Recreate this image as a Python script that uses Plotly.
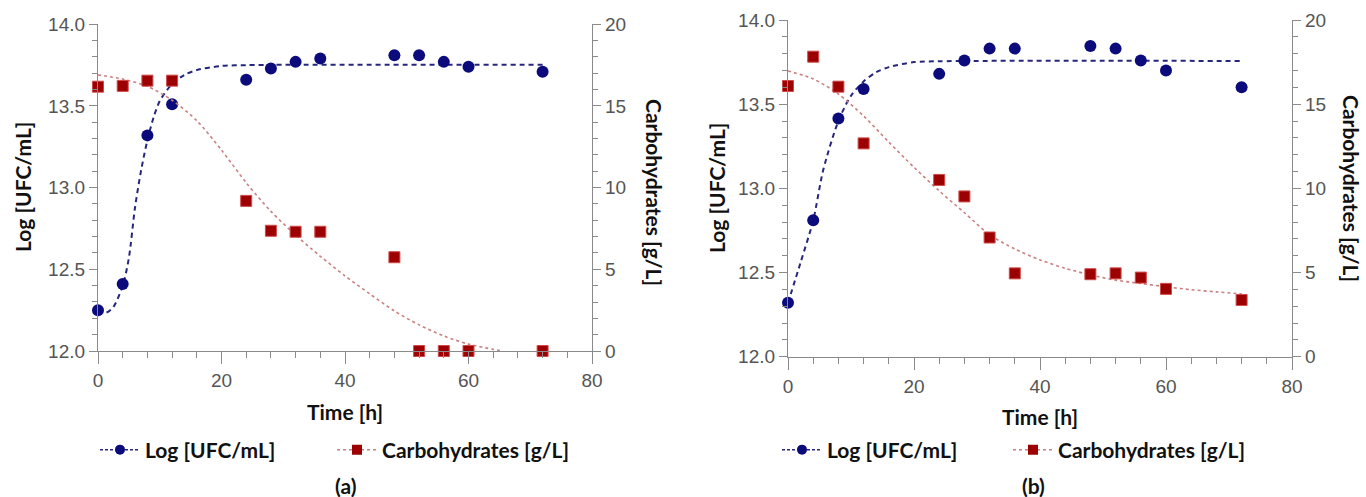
import plotly.graph_objects as go

# ---------------- data ----------------
time_h = [0, 4, 8, 12, 24, 28, 32, 36, 48, 52, 56, 60, 72]

log_a = [12.25, 12.41, 13.32, 13.51, 13.66, 13.73, 13.77, 13.79, 13.81, 13.81, 13.77, 13.74, 13.71]
carb_a = [16.18, 16.23, 16.55, 16.55, 9.19, 7.36, 7.30, 7.30, 5.74, 0.0, 0.0, 0.0, 0.0]

log_b = [12.32, 12.81, 13.415, 13.59, 13.68, 13.76, 13.83, 13.83, 13.845, 13.83, 13.76, 13.70, 13.60]
carb_b = [16.08, 17.82, 16.04, 12.67, 10.5, 9.52, 7.08, 4.95, 4.90, 4.95, 4.70, 4.03, 3.37]

# fitted curves
fit_log_a_t = [0, 1.3, 2.5, 4, 5, 6, 7, 8, 9, 10, 12, 14, 16, 20, 24, 30, 72]
fit_log_a_v = [12.25, 12.235, 12.27, 12.40, 12.57, 12.88, 13.11, 13.29, 13.43, 13.53, 13.635, 13.69, 13.72, 13.745, 13.75, 13.752, 13.752]
fit_carb_a_t = [0, 4, 8, 12, 16, 20, 24, 28, 32, 36, 40, 44, 48, 52, 56, 60, 64, 65.5]
fit_carb_a_v = [16.9, 16.65, 16.2, 15.35, 14.1, 12.3, 10.3, 8.55, 7.1, 5.8, 4.6, 3.5, 2.45, 1.6, 0.92, 0.42, 0.1, 0.0]

fit_log_b_t = [0, 2, 4, 5.6, 8, 10, 12, 14, 16, 20, 24, 30, 72]
fit_log_b_v = [12.32, 12.56, 12.81, 13.11, 13.40, 13.55, 13.635, 13.69, 13.72, 13.75, 13.755, 13.757, 13.757]
fit_carb_b_t = [0, 4, 8, 12, 16, 20, 24, 28, 32, 36, 40, 44, 48, 52, 56, 60, 64, 68, 72]
fit_carb_b_v = [16.97, 16.5, 15.6, 14.3, 12.75, 11.25, 9.85, 8.55, 7.25, 6.4, 5.75, 5.25, 4.86, 4.55, 4.35, 4.15, 3.98, 3.85, 3.73]

name_log = "Log [UFC/mL]"
name_carb = "Carbohydrates [g/L]"
x_title = "Time [h]"
panel_labels = ["(a)", "(b)"]

# ---------------- style ----------------
W, H = 1366, 497
BLUE = "#0b0b7c"
BLUE_LINE = "#26267e"
RED = "#9c0000"
RED_EDGE = "#cf4a4a"
RED_LINE = "#c98080"
AXIS = "#8a8a8a"
TICKFONT = dict(family="Liberation Sans, Arial, sans-serif", size=19, color="#555555")
BOLD = dict(family="Lato, Carlito, sans-serif", size=21, color="#111111", weight="bold")

fig = go.Figure()

panels = [
    dict(xa="x", ya="y", ya2="y2", log=log_a, carb=carb_a,
         flt=fit_log_a_t, flv=fit_log_a_v, fct=fit_carb_a_t, fcv=fit_carb_a_v, legends=("legend", "legend2")),
    dict(xa="x2", ya="y3", ya2="y4", log=log_b, carb=carb_b,
         flt=fit_log_b_t, flv=fit_log_b_v, fct=fit_carb_b_t, fcv=fit_carb_b_v, legends=("legend3", "legend4")),
]

for p in panels:
    fig.add_trace(go.Scatter(x=p["fct"], y=p["fcv"], xaxis=p["xa"], yaxis=p["ya2"], mode="lines",
                             line=dict(color=RED_LINE, width=1.6, dash="dot", shape="spline", smoothing=0.8),
                             showlegend=False, hoverinfo="skip"))
    fig.add_trace(go.Scatter(x=p["flt"], y=p["flv"], xaxis=p["xa"], yaxis=p["ya"], mode="lines",
                             line=dict(color=BLUE_LINE, width=2, dash="5px,4px", shape="spline", smoothing=0.8),
                             showlegend=False, hoverinfo="skip"))
    fig.add_trace(go.Scatter(x=time_h, y=p["carb"], xaxis=p["xa"], yaxis=p["ya2"], mode="markers",
                             marker=dict(symbol="square", size=11, color=RED, line=dict(color=RED_EDGE, width=1)),
                             showlegend=False, cliponaxis=False))
    fig.add_trace(go.Scatter(x=time_h, y=p["log"], xaxis=p["xa"], yaxis=p["ya"], mode="markers",
                             marker=dict(symbol="circle", size=12, color=BLUE),
                             showlegend=False, cliponaxis=False))
    # legend entries
    fig.add_trace(go.Scatter(x=[None], y=[None], xaxis=p["xa"], yaxis=p["ya"], mode="lines+markers",
                             name=name_log, legend=p["legends"][0],
                             line=dict(color=BLUE_LINE, width=1.5, dash="3px,2px"),
                             marker=dict(symbol="circle", size=10, color=BLUE)))
    fig.add_trace(go.Scatter(x=[None], y=[None], xaxis=p["xa"], yaxis=p["ya2"], mode="lines+markers",
                             name=name_carb, legend=p["legends"][1],
                             line=dict(color=RED_LINE, width=1.5, dash="dot"),
                             marker=dict(symbol="square", size=10, color=RED)))

def xaxis_cfg(dom, anchor):
    return dict(domain=dom, anchor=anchor, range=[0, 80], tick0=0, dtick=20,
                ticks="outside", ticklen=12, tickwidth=1, tickcolor=AXIS,
                minor=dict(dtick=4, ticklen=6, ticks="outside", tickcolor=AXIS, tickwidth=1),
                showline=True, linecolor=AXIS, linewidth=1.3, showgrid=False, zeroline=False,
                tickfont=TICKFONT, fixedrange=True, automargin=False)

def yleft_cfg(dom, anchor):
    return dict(domain=dom, anchor=anchor, range=[12, 14], tick0=12, dtick=0.5, tickformat=".1f",
                ticks="outside", ticklen=8, tickwidth=1, tickcolor=AXIS,
                minor=dict(dtick=0.1, ticklen=5, ticks="outside", tickcolor=AXIS, tickwidth=1),
                showline=True, linecolor=AXIS, linewidth=1.3, showgrid=False, zeroline=False,
                tickfont=TICKFONT, fixedrange=True, automargin=False)

def yright_cfg(over, anchor):
    return dict(overlaying=over, side="right", anchor=anchor, range=[0, 20], tick0=0, dtick=5,
                ticks="outside", ticklen=8, tickwidth=1, tickcolor=AXIS,
                minor=dict(dtick=1, ticklen=5, ticks="outside", tickcolor=AXIS, tickwidth=1),
                showline=True, linecolor=AXIS, linewidth=1.3, showgrid=False, zeroline=False,
                tickfont=TICKFONT, fixedrange=True, automargin=False)

xa_dom = [98 / W, 592 / W]
ya_dom = [1 - 351 / H, 1 - 24.3 / H]
xb_dom = [788 / W, 1292 / W]
yb_dom = [1 - 356.7 / H, 1 - 20 / H]

def leg(x_px, y_px):
    return dict(x=x_px / W, y=1 - y_px / H, orientation="h", font=BOLD, bgcolor="rgba(0,0,0,0)",
                yanchor="middle", xanchor="left", itemwidth=40)

fig.update_layout(
    width=W, height=H, autosize=False,
    margin=dict(l=0, r=0, t=0, b=0, autoexpand=False),
    paper_bgcolor="white", plot_bgcolor="white",
    xaxis=xaxis_cfg(xa_dom, "y"),
    yaxis=yleft_cfg(ya_dom, "x"),
    yaxis2=yright_cfg("y", "x"),
    xaxis2=xaxis_cfg(xb_dom, "y3"),
    yaxis3=yleft_cfg(yb_dom, "x2"),
    yaxis4=yright_cfg("y3", "x2"),
    legend=leg(95, 450),
    legend2=leg(332, 450),
    legend3=leg(777, 450),
    legend4=leg(1008, 450),
    showlegend=True,
)

ann = []
# left axis titles
ann.append(dict(x=22 / W, y=1 - 187 / H, text=name_log, textangle=-90))
ann.append(dict(x=716 / W, y=1 - 188 / H, text=name_log, textangle=-90))
# right axis titles
ann.append(dict(x=655 / W, y=1 - 192 / H, text=name_carb, textangle=90))
ann.append(dict(x=1352 / W, y=1 - 188 / H, text=name_carb, textangle=90))
# x titles
ann.append(dict(x=345 / W, y=1 - 411 / H, text=x_title))
ann.append(dict(x=1040 / W, y=1 - 416 / H, text=x_title))
# panel labels
ann.append(dict(x=345 / W, y=1 - 485 / H, text=panel_labels[0]))
ann.append(dict(x=1033 / W, y=1 - 485 / H, text=panel_labels[1]))

fig.update_layout(annotations=[dict(a, xref="paper", yref="paper", showarrow=False,
                                    xanchor="center", yanchor="middle", font=BOLD) for a in ann])

fig.write_html("out.html", config={"displayModeBar": False},
               post_script="document.body.style.margin='0';document.body.style.overflow='hidden';")
